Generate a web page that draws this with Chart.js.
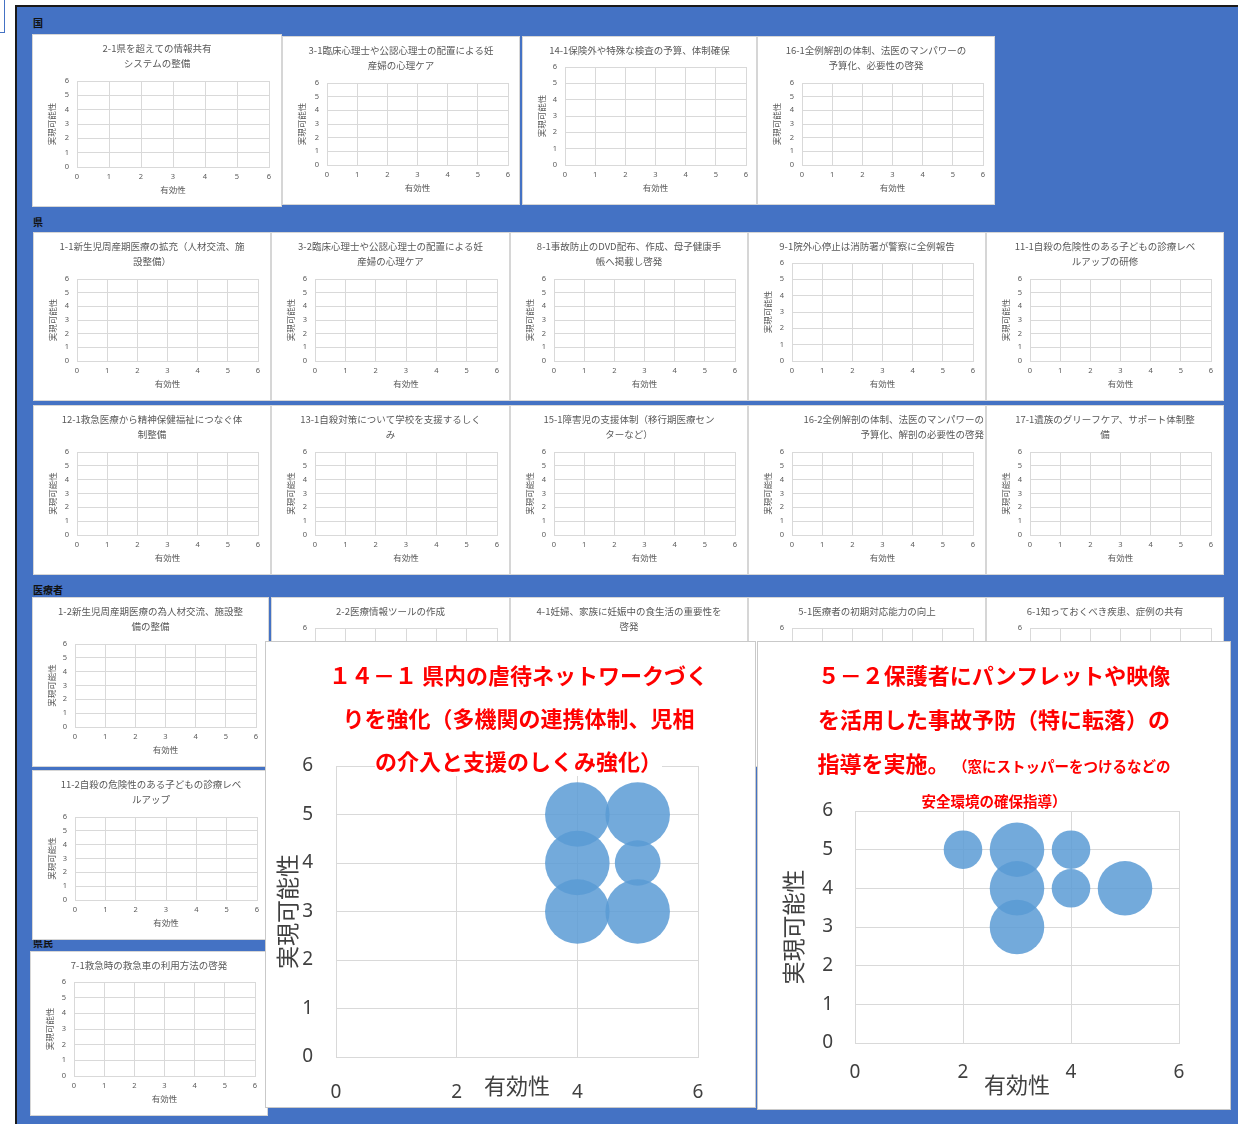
<!DOCTYPE html>
<html lang="ja">
<head>
<meta charset="utf-8">
<title>有効性・実現可能性 評価シート</title>
<script src="https://cdn.jsdelivr.net/npm/chart.js@4/dist/chart.umd.min.js"></script>
<style>
  html, body { margin: 0; padding: 0; background: #fff; }
  body { width: 1240px; height: 1124px; position: relative; overflow: hidden;
         font-family: "Noto Sans CJK JP", "Noto Sans", sans-serif; }
  #corner { position: absolute; left: -1px; top: -1px; width: 4px; height: 32px;
            border: 1px solid #4472c4; }
  #frame { position: absolute; left: 15px; top: 5px; width: 1221px; height: 1130px;
           background: #4472c4; border-left: 2px solid #1a1a1a; border-top: 2px solid #1a1a1a; }
  .sec { position: absolute; font-size: 10px; font-weight: bold; color: #111; line-height: 12px; }
  .panel { position: absolute; background: #fff; box-shadow: inset 0 0 0 1px #d6d6d6; }
  .big { position: absolute; background: #fff; box-shadow: inset 0 0 0 1px #c9c9c9; }
  .panel canvas, .big canvas { position: absolute; left: 0; top: 0; }
  .bigtitle { position: absolute; color: #ff0000; font-weight: bold; text-align: center;
              white-space: nowrap; font-size: 22px; z-index: 2; }
  .bigtitle span { background: #fff; }
</style>
</head>
<body>
<div id="corner"></div>
<div id="frame"></div>
<div id="stage"></div>
<script>
// ---- data -------------------------------------------------------------
const sectionNames = ['国', '県', '医療者', '県民'];

const nationalTitles = [
  ['2-1県を超えての情報共有', 'システムの整備'],
  ['3-1臨床心理士や公認心理士の配置による妊', '産婦の心理ケア'],
  ['14-1保険外や特殊な検査の予算、体制確保'],
  ['16-1全例解剖の体制、法医のマンパワーの', '予算化、必要性の啓発']
];
const prefectureTitles = [
  ['1-1新生児周産期医療の拡充（人材交流、施', '設整備）'],
  ['3-2臨床心理士や公認心理士の配置による妊', '産婦の心理ケア'],
  ['8-1事故防止のDVD配布、作成、母子健康手', '帳へ掲載し啓発'],
  ['9-1院外心停止は消防署が警察に全例報告'],
  ['11-1自殺の危険性のある子どもの診療レベ', 'ルアップの研修'],
  ['12-1救急医療から精神保健福祉につなぐ体', '制整備'],
  ['13-1自殺対策について学校を支援するしく', 'み'],
  ['15-1障害児の支援体制（移行期医療セン', 'ターなど）'],
  ['16-2全例解剖の体制、法医のマンパワーの', '予算化、解剖の必要性の啓発'],
  ['17-1遺族のグリーフケア、サポート体制整', '備']
];
const medicalTitles = [
  ['1-2新生児周産期医療の為人材交流、施設整', '備の整備'],
  ['2-2医療情報ツールの作成'],
  ['4-1妊婦、家族に妊娠中の食生活の重要性を', '啓発'],
  ['5-1医療者の初期対応能力の向上'],
  ['6-1知っておくべき疾患、症例の共有'],
  ['11-2自殺の危険性のある子どもの診療レベ', 'ルアップ']
];
const residentTitles = [
  ['7-1救急時の救急車の利用方法の啓発']
];

const effectLabel = '有効性';
const feasibleLabel = '実現可能性';
const scoreTicks = [0, 1, 2, 3, 4, 5, 6];
const wideTicks = [0, 2, 4, 6];

// 14-1: 有効性, 実現可能性, number of answers
const abuseNetTitle = ['１４－１ 県内の虐待ネットワークづく', 'りを強化（多機関の連携体制、児相', 'の介入と支援のしくみ強化）'];
const abuseNetEffect   = [4, 5, 4, 5, 4, 5];
const abuseNetFeasible = [5, 5, 4, 4, 3, 3];
const abuseNetCount    = [2, 2, 2, 1, 2, 2];

// 5-2: 有効性, 実現可能性, number of answers
const fallPrevTitle = ['５－２保護者にパンフレットや映像', 'を活用した事故予防（特に転落）の', '指導を実施。'];
const fallPrevNote  = ['（窓にストッパーをつけるなどの', '安全環境の確保指導）'];
const fallPrevEffect   = [2, 3, 4, 3, 4, 5, 3];
const fallPrevFeasible = [5, 5, 5, 4, 4, 4, 3];
const fallPrevCount    = [1, 2, 1, 2, 1, 2, 2];

// ---- layout -----------------------------------------------------------
// section headings: [left, top]
const sectionSpots = [[33, 17], [33, 216], [33, 584], [33, 937]];
// panel boxes: [left, top, width, height]
const nationalBoxes = [[32, 34, 250, 173], [282, 36, 238, 169], [522, 36, 235, 169], [757, 36, 238, 169]];
const prefectureBoxes = [
  [33, 232, 238, 169], [271, 232, 239, 169], [510, 232, 238, 169], [748, 232, 238, 169], [986, 232, 238, 169],
  [33, 405, 238, 170], [271, 405, 239, 170], [510, 405, 238, 170], [748, 405, 238, 170], [986, 405, 238, 170]
];
const medicalBoxes = [[32, 597, 237, 170], [271, 597, 239, 170], [510, 597, 238, 170], [748, 597, 238, 170], [986, 597, 238, 170], [32, 770, 238, 170]];
const residentBoxes = [[30, 951, 238, 165]];

// ---- drawing ----------------------------------------------------------
const FONT_JP = '"Noto Sans CJK JP", "Noto Sans", sans-serif';
const FONT_NUM = '"Noto Sans", "DejaVu Sans", sans-serif';
const GRID = '#d9d9d9';
const INK = '#595959';
const BIG_INK = '#404040';
const BUBBLE_FILL = 'rgba(91,155,213,0.85)';
const BUBBLE_SCALE = 0.0995;   // largest bubble radius relative to the plot's mean side

const stage = document.getElementById('stage');

sectionNames.forEach((name, i) => {
  const d = document.createElement('div');
  d.className = 'sec';
  d.textContent = name;
  d.style.left = sectionSpots[i][0] + 'px';
  d.style.top = sectionSpots[i][1] + 'px';
  stage.appendChild(d);
});

function panelDiv(cls, box) {
  const d = document.createElement('div');
  d.className = cls;
  d.style.left = box[0] + 'px';
  d.style.top = box[1] + 'px';
  d.style.width = box[2] + 'px';
  d.style.height = box[3] + 'px';
  const c = document.createElement('canvas');
  c.width = box[2];
  c.height = box[3];
  d.appendChild(c);
  stage.appendChild(d);
  return { div: d, canvas: c };
}

function tickList(values) {
  return s => { s.ticks = values.map(v => ({ value: v })); };
}

// empty 0–6 scatter grid with a one- or two-line heading
function smallChart(box, lines, o = {}) {
  const { canvas } = panelDiv('panel', box);
  const lh = 15;
  const plotTop = o.plotTop ?? (lines.length > 1 ? 47 : 31);
  const left = o.left ?? 44;
  const right = o.right ?? 13;
  const edge = o.edge ?? 0;
  const padTop = 14 - lh / 2;
  new Chart(canvas, {
    type: 'bubble',
    data: { datasets: [{ data: [], xAxisID: 'x', yAxisID: 'y' }] },
    options: {
      responsive: false, animation: false, events: [],
      layout: { padding: { left: 0, top: 0, bottom: 0, right: edge } },
      plugins: {
        legend: { display: false }, tooltip: { enabled: false },
        title: {
          display: true, text: lines, align: o.align || 'center', color: INK,
          font: { family: FONT_JP, size: 9.5, weight: 'normal', lineHeight: lh + 'px' },
          padding: { top: padTop, bottom: plotTop - padTop - lh * lines.length }
        }
      },
      scales: {
        x: {
          type: 'linear', position: 'bottom', min: 0, max: 6,
          afterBuildTicks: tickList(scoreTicks),
          afterFit: s => { s.height = 40; },
          ticks: { padding: 5, color: INK, font: { family: FONT_NUM, size: 7.5 } },
          grid: { color: GRID, drawTicks: false }, border: { color: GRID },
          title: { display: true, text: effectLabel, color: INK,
                   font: { family: FONT_JP, size: 8.5, lineHeight: '10px' }, padding: { top: 0, bottom: 12 } }
        },
        y: {
          type: 'linear', position: 'left', min: 0, max: 6,
          afterBuildTicks: tickList(scoreTicks),
          afterFit: s => { s.width = left; },
          ticks: { padding: 8, color: INK, font: { family: FONT_NUM, size: 7.5 } },
          grid: { color: GRID, drawTicks: false }, border: { color: GRID },
          title: { display: true, text: feasibleLabel, color: INK,
                   font: { family: FONT_JP, size: 8.5, lineHeight: '10px' }, padding: { top: 15, bottom: 0 } }
        },
        yr: {
          type: 'linear', position: 'right', display: true,
          afterFit: s => { s.width = right - edge; },
          ticks: { display: false }, grid: { display: false }, border: { display: false }
        }
      }
    }
  });
}

nationalBoxes.forEach((b, i) => smallChart(b, nationalTitles[i], {
  left: [45, 45, 43, 45][i], right: [13, 12, 11, 12][i]
}));
prefectureBoxes.forEach((b, i) => smallChart(b, prefectureTitles[i],
  i === 8 ? { align: 'end', edge: 2 } : {}));
medicalBoxes.forEach((b, i) => smallChart(b, medicalTitles[i], { left: i === 0 || i === 5 ? 43 : 44 }));
residentBoxes.forEach((b, i) => smallChart(b, residentTitles[i], { left: 44 }));

// enlarged bubble chart for one measure; bubble area follows the answer count
function bigChart(box, g, xs, ys, counts) {
  const { div, canvas } = panelDiv('big', box);
  const maxCount = Math.max(...counts);
  const side = Math.sqrt((g.plotRight - g.plotLeft) * (g.plotBottom - g.plotTop));
  const points = xs.map((x, i) => ({
    x: x, y: ys[i], r: BUBBLE_SCALE * side * Math.sqrt(counts[i] / maxCount)
  }));
  new Chart(canvas, {
    type: 'bubble',
    data: {
      datasets: [{
        data: points, xAxisID: 'x', yAxisID: 'y',
        backgroundColor: BUBBLE_FILL, borderWidth: 0, borderColor: 'rgba(0,0,0,0)'
      }]
    },
    options: {
      responsive: false, animation: false, events: [],
      layout: { padding: { left: 0, top: g.plotTop, bottom: 0, right: box[2] - g.plotRight } },
      plugins: { legend: { display: false }, tooltip: { enabled: false }, title: { display: false } },
      scales: {
        x: {
          type: 'linear', min: 0, max: 6,
          afterBuildTicks: tickList(wideTicks),
          afterFit: s => { s.height = box[3] - g.plotBottom; },
          ticks: { padding: g.xTickPad, color: BIG_INK, font: { family: FONT_NUM, size: 19 } },
          grid: { color: GRID, drawTicks: false }, border: { color: GRID },
          title: { display: true, text: effectLabel, color: BIG_INK,
                   font: { family: FONT_JP, size: 22, lineHeight: '24px' }, padding: { top: 0, bottom: g.xTitlePad } }
        },
        y: {
          type: 'linear', min: 0, max: 6,
          afterBuildTicks: tickList(scoreTicks),
          afterFit: s => { s.width = g.plotLeft; },
          ticks: { padding: g.yTickPad, color: BIG_INK, font: { family: FONT_NUM, size: 19 } },
          grid: { color: GRID, drawTicks: false }, border: { color: GRID },
          title: { display: true, text: feasibleLabel, color: BIG_INK,
                   font: { family: FONT_JP, size: 23, lineHeight: '26px' }, padding: { top: g.yTitlePad, bottom: 0 } }
        }
      }
    }
  });
  return div;
}

function addTitle(div, lines, css, note) {
  const t = document.createElement('div');
  t.className = 'bigtitle';
  t.style.left = css.left;
  t.style.top = css.top;
  t.style.width = css.width;
  lines.forEach((line, i) => {
    const row = document.createElement('div');
    row.style.lineHeight = css.rowHeight;
    const s = document.createElement('span');
    s.textContent = line;
    row.appendChild(s);
    if (note && i === lines.length - 1) {
      const n = document.createElement('span');
      n.textContent = ' ' + note[0];
      n.style.fontSize = '14.5px';
      row.appendChild(n);
    }
    t.appendChild(row);
  });
  if (note) {
    const row = document.createElement('div');
    row.style.lineHeight = '26px';
    row.style.fontSize = '14.5px';
    row.textContent = note[1];
    t.appendChild(row);
  }
  div.appendChild(t);
}

const abuseDiv = bigChart([265, 641, 491, 467],
  { plotLeft: 71, plotTop: 125, plotRight: 433, plotBottom: 416, xTickPad: 24, xTitlePad: 10, yTickPad: 23, yTitlePad: 9 },
  abuseNetEffect, abuseNetFeasible, abuseNetCount);
addTitle(abuseDiv, abuseNetTitle, { left: '8px', top: '12px', width: '491px', rowHeight: '43px' });

const fallDiv = bigChart([757, 641, 474, 469],
  { plotLeft: 98, plotTop: 170, plotRight: 422, plotBottom: 402, xTickPad: 18, xTitlePad: 13, yTickPad: 22, yTitlePad: 23 },
  fallPrevEffect, fallPrevFeasible, fallPrevCount);
addTitle(fallDiv, fallPrevTitle, { left: '0px', top: '11px', width: '474px', rowHeight: '44px' }, fallPrevNote);
</script>
</body>
</html>
